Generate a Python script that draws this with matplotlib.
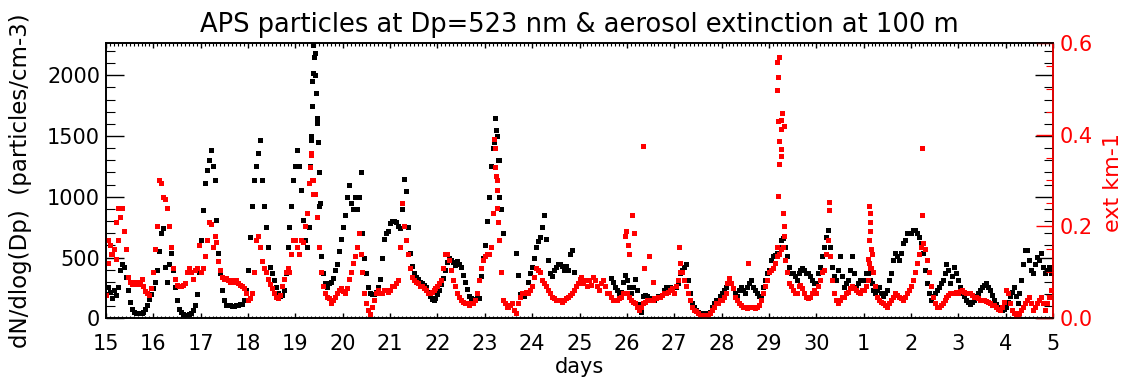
import numpy as np
import matplotlib
matplotlib.use('Agg')
import matplotlib.pyplot as plt
from matplotlib.ticker import MultipleLocator, FixedLocator

# day-of-month labels under the axis (15th .. 30th, then 1st .. 5th)
day_labels = ['15', '16', '17', '18', '19', '20', '21', '22', '23', '24',
              '25', '26', '27', '28', '29', '30', '1', '2', '3', '4', '5']
samples_per_day = 24  # hourly values

nan = float('nan')

# APS dN/dlog(Dp) at Dp=523 nm (particles/cm-3), one row per day
aps_dn = [
    200, 260, 220, 170, 230, 190, 260, 400, 450, 420, 340, 230, 130, 80, 55, 45, 40, 40, 45, 55, 80, 110, 160, 200,                # 15
    250, 300, 400, 550, 700, 740, 420, 300, 450, 540, 400, 260, 150, 80, 50, 35, 30, 30, 35, 45, 70, 110, 200, 380,                # 16
    645, 890, 1110, 1220, 1300, 1385, 1250, 1140, 810, 535, 370, 235, 150, 110, 110, 110, 105, 105, 110, 110, 115, 120, 150, 230,  # 17
    400, 670, 920, 1140, 1250, 1360, 1470, 1140, 920, 755, 590, 425, 370, 315, 260, 205, 180, 190, 235, 370, 590, 755, 920, 1140,  # 18
    1250, 1385, 1250, 1055, 810, 645, 590, 755, 1470, 2015, 2180, 1610, 920, 510, 370, 290, 260, 290, 300, 330, 400, 450, 550, 650,  # 19
    750, 850, 1000, 1100, 950, 900, 1000, 900, 1000, 1200, 700, 500, 370, 260, 210, 200, 200, 220, 260, 320, 500, 650, 700, 720,   # 20
    780, 800, 800, 790, 760, 740, 900, 1150, 1050, 750, 540, 430, 370, 340, 320, 300, 290, 270, 255, 220, 180, 160, 150, 170,     # 21
    200, 230, 280, 330, 400, 460, 500, 480, 460, 440, 470, 450, 420, 360, 300, 240, 180, 165, 160, 160, 165, 170, 350, 500,       # 22
    600, 800, 1000, 1250, 1400, 1650, 1500, 1300, 900, 700, nan, nan, nan, nan, nan, nan, 535, 360, 200, 190, 180, 220, 300, 370,  # 23
    420, 500, 590, 640, 670, 750, 850, 650, 480, 370, 350, 400, 420, 450, 450, 430, 400, 430, 400, 530, 560, 380, nan, nan,       # 24
    nan, nan, nan, nan, nan, nan, nan, nan, nan, nan, nan, nan, nan, nan, nan, nan, 330, 300, 260, 230, 200, 220, 300, 360,       # 25
    315, 260, 205, 260, 320, 235, 120, 50, 180, 190, 180, 165, 165, 150, 150, 165, 180, 180, 190, 235, 260, 250, 260, 250,        # 26
    205, 260, 290, 370, 400, 425, 450, 315, 205, 125, 95, 70, 55, 45, 40, 40, 40, 45, 55, 90, 125, 150, 150, 180,                 # 27
    205, 235, 260, 290, 315, 290, 250, 205, 180, 235, 260, 235, 205, 260, 290, 315, 260, 235, 205, 180, 180, 260, 315, 370,       # 28
    400, 480, 510, 520, 535, 590, 645, 660, 590, 510, 425, 370, 370, 345, 315, 370, 400, 410, 400, 370, 370, 345, 315, 290,       # 29
    290, 370, 425, 510, 590, 670, 730, 590, 425, 345, 315, 400, 510, 345, 260, 290, 315, 400, 510, 370, 260, 290, 315, 315,       # 30
    315, 370, 370, 315, 290, 235, 205, 235, 260, 205, 180, 205, 235, 315, 370, 480, 535, 510, 480, 535, 620, 645, 700, 700,       # 1
    700, 730, 730, 700, 670, 620, 535, 400, 290, 205, 150, 180, 205, 235, 260, 290, 315, 370, 450, 400, 290, 345, 425, 370,       # 2
    315, 260, 205, 180, 150, 135, 120, 135, 150, 180, 205, 235, 260, 275, 290, 260, 235, 190, 150, 120, 95, 80, 70, 80,           # 3
    95, 135, 180, 220, 260, 180, 125, 205, 315, 450, 560, 560, 480, 400, 370, 450, 505, 480, 535, 425, 370, 400, 425, 370,         # 4
]

# aerosol extinction at 100 m (km-1), same hourly sampling
ext_100m = [
    0.05, 0.12, 0.16, 0.14, 0.15, 0.13, 0.17, 0.22, 0.24, 0.19, 0.15, 0.09, 0.08, 0.075, 0.08, 0.075, 0.08, 0.075, 0.085, 0.07, 0.06, 0.055, 0.05, 0.065,
    0.10, 0.15, 0.20, 0.30, 0.295, 0.265, 0.26, 0.24, 0.20, 0.155, 0.11, 0.085, 0.073, 0.07, 0.07, 0.073, 0.076, 0.10, 0.11, 0.10, 0.085, 0.105, 0.11, 0.16,
    0.10, 0.11, 0.135, 0.17, 0.21, 0.205, 0.155, 0.18, 0.165, 0.125, 0.105, 0.09, 0.085, 0.087, 0.084, 0.08, 0.084, 0.08, 0.084, 0.076, 0.073, 0.07, 0.065, 0.055,
    0.04, 0.045, 0.055, 0.10, 0.17, 0.18, 0.155, 0.125, 0.11, 0.10, 0.085, 0.075, 0.065, 0.055, 0.047, 0.044, 0.05, 0.07, 0.085, 0.10, 0.11, 0.10, 0.14, 0.17,
    0.17, 0.155, 0.14, 0.17, 0.165, 0.20, 0.23, 0.295, 0.355, 0.30, 0.27, 0.22, 0.155, 0.10, 0.07, 0.055, 0.047, 0.044, 0.033, 0.04, 0.047, 0.055, 0.062, 0.065,
    0.06, 0.055, 0.065, 0.085, 0.10, 0.12, 0.135, 0.155, 0.185, 0.14, 0.10, 0.055, 0.033, 0.018, 0.01, 0.025, 0.04, 0.055, 0.062, 0.055, 0.055, 0.062, 0.062, 0.058,
    0.062, 0.07, 0.07, 0.076, 0.084, 0.155, 0.25, 0.20, 0.17, 0.14, 0.11, 0.09, 0.084, 0.08, 0.076, 0.07, 0.07, 0.065, 0.062, 0.055, 0.055, 0.058, 0.062, 0.065,
    0.07, 0.076, 0.084, 0.11, 0.14, 0.14, 0.127, 0.105, 0.084, 0.07, 0.055, 0.047, 0.04, 0.036, 0.033, 0.033, 0.03, 0.033, 0.033, 0.04, 0.055, 0.084, 0.11, 0.127,
    0.135, 0.14, 0.14, 0.155, 0.23, 0.33, 0.30, 0.17, 0.10, 0.04, 0.033, 0.025, 0.025, 0.03, 0.033, 0.018, 0.011, 0.033, 0.047, 0.055, 0.055, 0.058, 0.055, 0.062,
    0.07, 0.09, 0.11, 0.105, 0.10, 0.084, 0.076, 0.07, 0.062, 0.055, 0.047, 0.044, 0.04, 0.04, 0.04, 0.036, 0.04, 0.044, 0.047, 0.05, 0.055, 0.062, 0.07, 0.076,
    0.085, 0.09, 0.076, 0.084, 0.07, 0.084, 0.073, 0.09, 0.084, 0.07, 0.062, 0.076, 0.084, 0.07, 0.055, 0.055, 0.047, 0.04, 0.04, 0.04, 0.044, 0.047, 0.055, 0.055,
    0.055, 0.047, 0.04, 0.036, 0.033, 0.025, 0.018, 0.025, 0.033, 0.036, 0.04, 0.04, 0.04, 0.04, 0.044, 0.044, 0.047, 0.047, 0.05, 0.055, 0.055, 0.058, 0.062, 0.065,
    0.055, 0.07, 0.084, 0.10, 0.10, 0.084, 0.07, 0.055, 0.04, 0.025, 0.018, 0.015, 0.011, 0.007, 0.007, 0.005, 0.007, 0.007, 0.011, 0.018, 0.025, 0.033, 0.033, 0.04,
    0.04, 0.047, 0.055, 0.076, 0.087, 0.076, 0.065, 0.047, 0.04, 0.033, 0.03, 0.025, 0.025, 0.022, 0.025, 0.025, 0.025, 0.022, 0.025, 0.03, 0.04, 0.055, 0.07, 0.084,
    0.10, 0.105, 0.11, 0.12, 0.135, 0.14, 0.15, 0.155, 0.127, 0.10, 0.076, 0.07, 0.062, 0.055, 0.055, 0.07, 0.073, 0.065, 0.055, 0.047, 0.044, 0.047, 0.055, 0.062,
    0.055, 0.07, 0.084, 0.10, 0.105, 0.14, 0.17, 0.135, 0.084, 0.055, 0.04, 0.033, 0.04, 0.047, 0.047, 0.055, 0.058, 0.065, 0.07, 0.065, 0.062, 0.058, 0.055, 0.062,
    0.062, 0.07, 0.084, 0.11, 0.14, 0.10, 0.07, 0.047, 0.04, 0.036, 0.033, 0.03, 0.025, 0.033, 0.04, 0.047, 0.055, 0.05, 0.047, 0.044, 0.04, 0.047, 0.055, 0.062,
    0.07, 0.084, 0.10, 0.12, 0.14, 0.155, 0.163, 0.15, 0.127, 0.10, 0.07, 0.047, 0.033, 0.025, 0.025, 0.03, 0.033, 0.04, 0.047, 0.05, 0.055, 0.055, 0.055, 0.058,
    0.055, 0.06, 0.062, 0.058, 0.055, 0.055, 0.055, 0.05, 0.047, 0.047, 0.045, 0.04, 0.04, 0.04, 0.038, 0.035, 0.033, 0.03, 0.028, 0.025, 0.02, 0.018, 0.025, 0.035,
    0.062, 0.055, 0.033, 0.018, 0.011, 0.004, 0.004, 0.011, 0.018, 0.025, 0.033, 0.04, 0.047, 0.033, 0.018, 0.025, 0.033, 0.04, 0.047, 0.033, 0.018, 0.033, 0.047, 0.062,
]

# extra points inside the short spikes (days since the 15th)
aps_spike_t = [4.30, 4.32, 4.34, 4.36, 4.38, 4.40, 4.42, 4.44, 4.46, 4.48, 4.50, 4.52,
               8.20, 8.22, 8.24, 8.27, 8.30]
aps_spike_dn = [1250, 1500, 1750, 1950, 2250, 2150, 2000, 1850, 1650, 1450, 1200, 950,
                1450, 1650, 1550, 1300, 1000]

ext_spike_t = [0.04, 0.10, 0.22, 0.25,
               4.30, 4.33, 4.36, 4.38,
               8.20, 8.22, 8.23, 8.25, 8.26, 8.28, 8.30,
               10.95, 10.98, 11.02, 11.05, 11.11, 11.16, 11.33, 11.37, 11.46, 11.56,
               12.11, 12.12, 13.55,
               14.207, 14.171, 14.186, 14.178, 14.277, 14.263, 14.199, 14.32, 14.263,
               14.221, 14.249, 14.249, 14.221, 14.193, 14.306, 14.32, 14.32, 14.178,
               15.26, 15.26,
               16.12, 16.14, 16.13, 16.14, 16.12, 16.15, 16.11, 16.16, 16.10,
               17.23, 17.23]
ext_spike = [0.17, 0.14, 0.21, 0.24,
             0.33, 0.36, 0.30, 0.27,
             0.39, 0.37, 0.31, 0.28, 0.24, 0.21, 0.17,
             0.18, 0.19, 0.16, 0.14, 0.225, 0.185, 0.375, 0.11, 0.135, 0.08,
             0.155, 0.12, 0.12,
             0.569, 0.557, 0.525, 0.496, 0.447, 0.432, 0.430, 0.418, 0.412,
             0.385, 0.368, 0.354, 0.336, 0.267, 0.229, 0.201, 0.180, 0.156,
             0.254, 0.236,
             0.245, 0.23, 0.21, 0.19, 0.17, 0.15, 0.12, 0.11, 0.13,
             0.37, 0.225]

t = np.arange(len(aps_dn)) / samples_per_day

fig = plt.figure(figsize=(11.23, 3.81), dpi=100)
ax1 = fig.add_axes([0.0944, 0.1646, 0.8433, 0.7234])
ax2 = ax1.twinx()

ms = 3.6
ax1.plot(t, aps_dn, 's', color='black', ms=ms, mew=0)
ax1.plot(aps_spike_t, aps_spike_dn, 's', color='black', ms=ms, mew=0)
ax2.plot(t, ext_100m, 's', color='red', ms=ms, mew=0)
ax2.plot(ext_spike_t, ext_spike, 's', color='red', ms=ms, mew=0)

ax1.set_xlim(0, 20)
ax1.set_ylim(0, 2268)
ax2.set_ylim(0, 0.6)

ax1.xaxis.set_major_locator(FixedLocator(range(len(day_labels))))
ax1.set_xticklabels(day_labels)
ax1.xaxis.set_minor_locator(MultipleLocator(1 / 12))
ax1.yaxis.set_major_locator(MultipleLocator(500))
ax1.yaxis.set_minor_locator(MultipleLocator(100))
ax2.yaxis.set_major_locator(MultipleLocator(0.2))
ax2.yaxis.set_minor_locator(MultipleLocator(0.05))
ax2.yaxis.set_major_formatter(plt.FormatStrFormatter('%.1f'))

ax1.tick_params(axis='x', which='major', direction='in', length=3.6, width=1,
                top=True, bottom=True, labelsize=15, pad=11)
ax1.tick_params(axis='x', which='minor', direction='in', length=1.8, width=0.8,
                top=True, bottom=True)
ax1.tick_params(axis='y', which='major', direction='in', length=13, width=1,
                left=True, right=True, labelsize=15, pad=4.3)
ax1.tick_params(axis='y', which='minor', direction='in', length=6.5, width=0.8,
                left=True, right=True)
ax2.tick_params(axis='y', which='major', direction='in', length=12, width=1,
                colors='red', labelsize=15, pad=5)
ax2.tick_params(axis='y', which='minor', direction='in', length=5, width=0.8,
                colors='red')

for sp in ax1.spines.values():
    sp.set_linewidth(1.2)
for sp in ax2.spines.values():
    sp.set_linewidth(1.2)
ax2.spines['right'].set_color('red')

ax1.set_title('APS particles at Dp=523 nm & aerosol extinction at 100 m',
              fontsize=18.5, pad=8)
ax1.set_xlabel('days', fontsize=15)
ax1.xaxis.set_label_coords(0.5, -0.14)
ax1.set_ylabel('dN/dlog(Dp)  (particles/cm-3)', fontsize=16.5)
ax1.yaxis.set_label_coords(-0.078, 0.498)
ax2.set_ylabel('ext km-1', fontsize=16, color='red')
ax2.yaxis.set_label_coords(1.053, 0.493)

fig.savefig('out.png', dpi=100)
